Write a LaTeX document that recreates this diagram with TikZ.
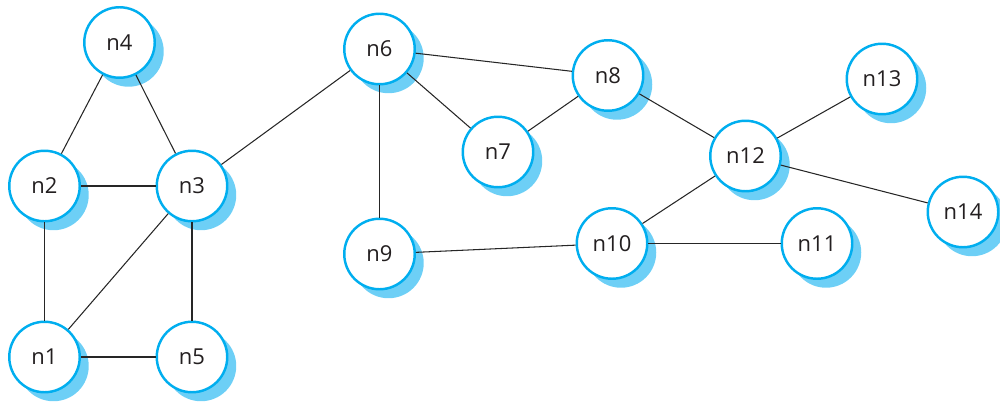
\documentclass[tikz,border=0pt]{standalone}
\usepackage{fontspec}
\setmainfont{Open Sans}
\usetikzlibrary{shadows}

\definecolor{nodeblue}{HTML}{00AEEF}
\definecolor{shadowblue}{HTML}{6DCFF6}
\definecolor{textdark}{HTML}{231F20}

\newcommand*{\pxw}{1000}
\newcommand*{\pxh}{402}

\begin{document}
\begin{tikzpicture}
[
	x=0.02cm, y=-0.02cm,
	vertex/.style={circle,draw=nodeblue,fill=white,line width=1.4pt,minimum size=1.41cm,inner sep=0pt,
		text=textdark,font=\fontsize{12.5}{14}\selectfont,
		drop shadow={shadow xshift=0.18cm,shadow yshift=-0.18cm,fill=shadowblue,opacity=1}},
	link/.style={draw=black!85,line width=0.6pt}
]

	\useasboundingbox (0,0) rectangle (\pxw,\pxh);

	% vertices
	\node[vertex] (n1) at (44.5,357) {n1};
	\node[vertex] (n2) at (44.5,186) {n2};
	\node[vertex] (n3) at (192,186) {n3};
	\node[vertex] (n4) at (119.5,42.5) {n4};
	\node[vertex] (n5) at (192,357) {n5};
	\node[vertex] (n6) at (379.5,49) {n6};
	\node[vertex] (n7) at (498,152) {n7};
	\node[vertex] (n8) at (608,75.5) {n8};
	\node[vertex] (n9) at (379.5,254) {n9};
	\node[vertex] (n10) at (612,243.5) {n10};
	\node[vertex] (n11) at (817,243.5) {n11};
	\node[vertex] (n12) at (745.5,156) {n12};
	\node[vertex] (n13) at (882,79) {n13};
	\node[vertex] (n14) at (963,212) {n14};

	% edges
	\foreach \a/\b in {n4/n2,n4/n3,n2/n3,n2/n1,n3/n1,n3/n5,n1/n5,n3/n6,n6/n8,n6/n7,n6/n9,
		n7/n8,n8/n12,n9/n10,n10/n12,n10/n11,n12/n13,n12/n14}
		\draw[link] (\a) -- (\b);

\end{tikzpicture}
\end{document}
